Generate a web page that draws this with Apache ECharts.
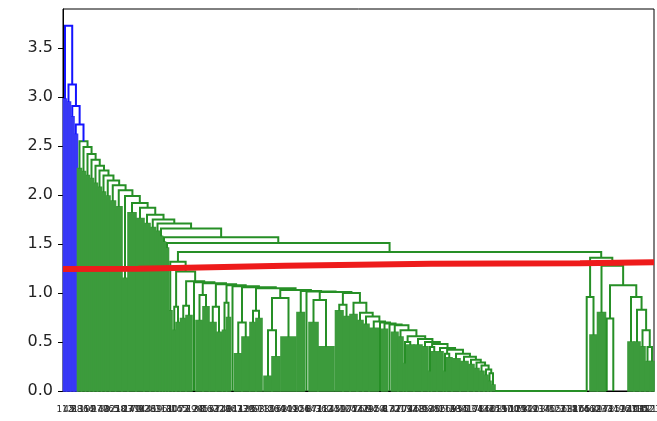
<!DOCTYPE html>
<html>
<head>
<meta charset="utf-8">
<script src="https://cdn.jsdelivr.net/npm/echarts@6/dist/echarts.min.js"></script>
<style>
html, body { margin: 0; padding: 0; background: #fff; }
#chart { width: 657px; height: 421px; }
</style>
</head>
<body>
<div id="chart"></div>
<script>
// dendrogram; x = leaf position, y = merge distance
// bars are tight clusters ([x0, x1, top]), [x] is a single leaf

// main chain from the root down, each merge splits off one small cluster
var topHeights = [3.73, 3.13, 2.91, 2.72, 2.55, 2.49, 2.42, 2.36, 2.30, 2.25, 2.20, 2.15,
    2.10, 2.05, 1.99, 1.92, 1.87, 1.80, 1.75, 1.71, 1.66, 1.57, 1.51, 1.42];
var topChildren = [
    [0.5, 3.5, 2.98], [3.5, 7.5, 2.95], [7.5, 11, 2.8], [11, 14.5, 2.62],
    [14.5, 18.5, 2.27], [18.5, 22.5, 2.24], [22.5, 26.5, 2.2], [26.5, 30.5, 2.17],
    [30.5, 34.5, 2.12], [34.5, 38.5, 2.08], [38.5, 42.5, 2.03], [42.5, 47, 1.99],
    [47, 52.5, 1.94], [52.5, 59, 1.88], [59, 65, 1.15], [65, 73, 1.82],
    [73, 81, 1.76], [81, 87, 1.71], [87, 92.5, 1.67], [92.5, 96.5, 1.63],
    [96.5, 99.5, 1.58], [99.5, 102.5, 1.52], [102.5, 105.5, 1.46]
];
var blueLinks = 4; // merges above the colour threshold

// middle cluster, also a chain
var midHeights = [1.32, 1.22, 1.12, 1.11, 1.10, 1.09, 1.08, 1.07, 1.06, 1.05, 1.03, 1.02,
    1.015, 1.01, 1.0, 0.9, 0.8, 0.76, 0.71, 0.7, 0.69, 0.68, 0.67, 0.62, 0.56, 0.53,
    0.5, 0.48, 0.44, 0.42, 0.38, 0.35, 0.32, 0.29, 0.26, 0.22, 0.18];
var midChildren = [
    [105.5, 109, 0.82],
    {h: 0.86, l: [109.5, 113, 0.62], r: [113, 117, 0.7]},
    {h: 0.87, l: [117.5, 123, 0.74], r: [123, 129, 0.77]},
    [131],
    {h: 0.98, l: [133, 140, 0.72], r: [140, 146, 0.86]},
    {h: 0.86, l: [146.5, 153, 0.7], r: [153, 159, 0.6]},
    {h: 0.9, l: [159.5, 163.5, 0.62], r: [163.5, 167.5, 0.75]},
    [169.5],
    {h: 0.7, l: [171.5, 179, 0.38], r: [179, 186.5, 0.55]},
    {h: 0.82, l: [187, 193, 0.7], r: [193, 199, 0.74]},
    {h: 0.95, l: {h: 0.62, l: [201, 209, 0.15], r: [209, 217, 0.35]}, r: [218, 233, 0.55]},
    [234, 241.5, 0.8],
    [243.5],
    {h: 0.93, l: [246, 255, 0.7], r: [255, 271, 0.45]},
    {h: 0.88, l: [272.5, 280, 0.82], r: [280, 287, 0.76]},
    [287, 294, 0.78], [294, 300, 0.72], [300, 306, 0.68], [306, 315.5, 0.64],
    [317],
    [318.5, 324.5, 0.63],
    [326.5],
    [328.5, 335, 0.6], [335, 340, 0.55],
    {h: 0.5, l: [340.5, 343.5, 0.28], r: [343.5, 351, 0.47]},
    [351, 359, 0.47], [359, 365, 0.45],
    {h: 0.45, l: [365.5, 368.5, 0.2], r: [368.5, 374, 0.4]},
    [374, 380, 0.4],
    {h: 0.38, l: [380.5, 383.5, 0.2], r: [383.5, 389, 0.34]},
    [389, 397, 0.33], [397, 405, 0.3], [405, 411, 0.27], [411, 416, 0.23],
    [416, 421, 0.2], [421, 425, 0.16], [425, 428, 0.1]
];
var midTail = [428, 432, 0.06];

// right hand group
var rightGroup = {h: 1.36,
    l: {h: 0.96, l: [523.7], r: [527, 534, 0.57]},
    r: {h: 1.28,
        l: [534.5, 542.5, 0.8],
        r: {h: 1.08,
            l: {h: 0.74, l: [543.7], r: [550.3]},
            r: {h: 0.96, l: [565, 571, 0.5],
                r: {h: 0.83, l: [571, 577, 0.5],
                    r: {h: 0.62, l: [577, 582, 0.45],
                        r: {h: 0.45, l: [582, 587, 0.3], r: [587, 591, 0.3]}}}}}}};

// leaves merged at zero distance
var zeroRun = [[432, 524]];

// hand drawn cut line
var cutLine = [[0, 1.245], [75, 1.248], [76, 1.268], [222, 1.278], [223, 1.29],
    [368, 1.3], [517, 1.305], [518, 1.31], [591, 1.315]];

var yTicks = [0, 0.5, 1, 1.5, 2, 2.5, 3, 3.5];
var leafLabels = [112, 45, 7, 88, 131, 19, 64, 2, 97, 140, 33, 76, 121, 5, 58, 103, 27, 149, 70, 14,
    92, 136, 41, 83, 9, 118, 61, 30, 107, 145, 52, 1, 79, 124, 38, 95, 16, 133, 67, 22, 110, 48,
    86, 143, 11, 73, 128, 35, 99, 57, 3, 115, 80, 26, 139, 62, 44, 101, 18, 90, 126, 50, 8, 147,
    71, 36, 113, 84, 24, 130, 59, 12, 105, 77, 42, 141, 66, 29, 94, 120, 54, 4, 87, 137, 47, 21,
    109, 74, 32, 148, 63, 15, 98, 125, 40, 82, 6, 116, 69, 28, 134, 55, 91, 13, 104, 78, 43, 146,
    60, 25, 119, 85, 37, 100, 10, 129, 68, 51, 142, 20, 93, 114, 39, 75, 0, 122, 56, 31, 138, 81,
    17, 106, 65, 46, 132, 89, 23, 144, 72, 34, 117, 53, 96, 127, 49, 108, 135, 102, 111, 123];

var GREEN = '#268f26', GREEN_FILL = '#3c9b3c', BLUE = '#1414ff', BLUE_FILL = '#3838f6';

function chain(children, heights, tail, nBlue) {
    var node = tail;
    for (var i = heights.length - 1; i >= 0; i--) {
        node = {h: heights[i], l: children[i], r: node, blue: i < (nBlue || 0)};
    }
    return node;
}

// lay out the tree: returns the point where the parent's leg lands
var links = [], bars = [];
function place(node, blue) {
    if (Array.isArray(node)) {
        if (node.length === 1) return {x: node[0], y: 0};
        bars.push([node[0], node[1], node[2], blue ? 1 : 0]);
        return {x: (node[0] + node[1]) / 2, y: node[2]};
    }
    var a = place(node.l, node.blue);
    var b = place(node.r, node.blue);
    links.push([a.x, a.y, b.x, b.y, node.h, node.blue ? 1 : 0]);
    return {x: (a.x + b.x) / 2, y: node.h};
}

var root = chain(topChildren.concat([chain(midChildren, midHeights, midTail)]),
    topHeights, rightGroup, blueLinks);
place(root, true);
zeroRun.forEach(function (z) { links.push([z[0], 0, z[1], 0, 0, 0]); });

var chart = echarts.init(document.getElementById('chart'));
chart.setOption({
    animation: false,
    backgroundColor: '#fff',
    grid: {left: 63, right: 3, top: 9, bottom: 30, outerBoundsMode: 'none',
        show: true, borderColor: '#000', borderWidth: 1},
    xAxis: [{
        type: 'value', min: 0, max: 591,
        axisLine: {show: true, lineStyle: {color: '#000', width: 1}},
        axisTick: {show: false}, axisLabel: {show: false}, splitLine: {show: false}
    }, {
        // leaf labels: far too many for the width, they run together like in the original
        type: 'category', data: leafLabels, position: 'bottom',
        axisLine: {show: false}, axisTick: {show: false}, splitLine: {show: false},
        axisLabel: {interval: 0, rotate: 0, fontSize: 9, color: '#2a2a2a', margin: 14,
            fontFamily: 'DejaVu Sans', hideOverlap: false}
    }],
    yAxis: {
        type: 'value', min: 0, max: 3.9, interval: 0.5,
        axisLine: {show: true, lineStyle: {color: '#000', width: 1}},
        axisTick: {show: true, length: 5, lineStyle: {color: '#000'}, customValues: yTicks},
        axisLabel: {fontSize: 16, color: '#222', margin: 10, fontFamily: 'DejaVu Sans',
            customValues: yTicks, formatter: function (v) { return v.toFixed(1); }},
        splitLine: {show: false}
    },
    series: [{
        type: 'custom', z: 2, data: bars,
        renderItem: function (params, api) {
            var p0 = api.coord([api.value(0), api.value(2)]);
            var p1 = api.coord([api.value(1), 0]);
            var c = api.value(3) ? BLUE_FILL : GREEN_FILL;
            return {type: 'rect', shape: {x: p0[0], y: p0[1], width: p1[0] - p0[0], height: p1[1] - p0[1]},
                style: {fill: c, stroke: c, lineWidth: 1.6}};
        }
    }, {
        type: 'custom', z: 3, data: links,
        renderItem: function (params, api) {
            var pts = [
                api.coord([api.value(0), api.value(1)]),
                api.coord([api.value(0), api.value(4)]),
                api.coord([api.value(2), api.value(4)]),
                api.coord([api.value(2), api.value(3)])
            ];
            return {type: 'polyline', shape: {points: pts},
                style: {stroke: api.value(5) ? BLUE : GREEN, fill: null, lineWidth: 2}};
        }
    }, {
        type: 'line', z: 5, data: cutLine, showSymbol: false, silent: true,
        lineStyle: {color: '#ee1b1b', width: 6}
    }]
});
</script>
</body>
</html>
